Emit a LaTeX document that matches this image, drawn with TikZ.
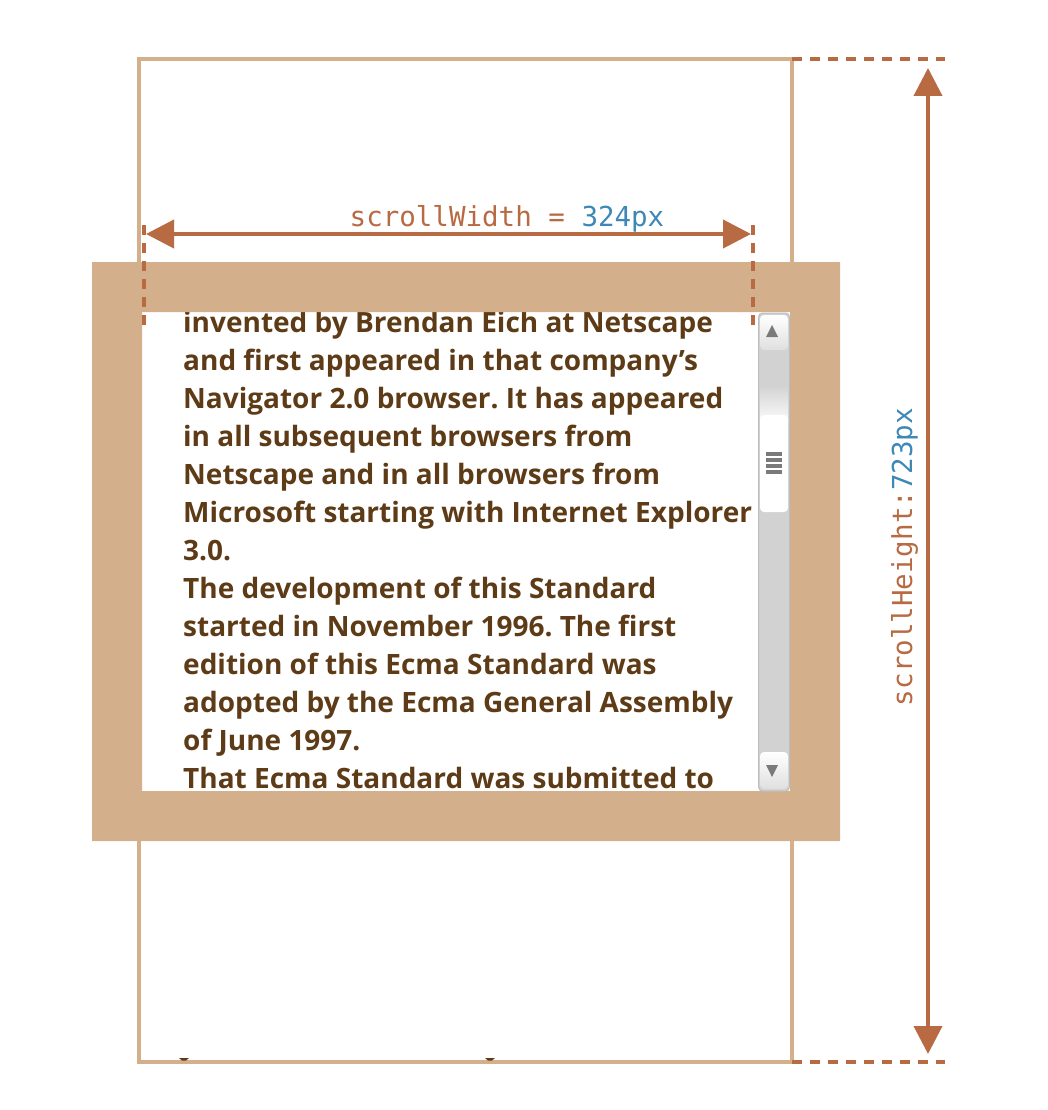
\documentclass[tikz,border=0pt]{standalone}
\usepackage{fontspec}
\setmainfont{Open Sans}
\setmonofont{DejaVu Sans Mono}
\usetikzlibrary{arrows.meta, positioning, calc}
\definecolor{cTan}{HTML}{D4AF8B}
\definecolor{cRust}{HTML}{B86A42}
\definecolor{cBlue}{HTML}{3E88B6}
\definecolor{cText}{HTML}{5E3B17}
\definecolor{cTrack}{HTML}{D2D2D2}
\definecolor{cEdge}{HTML}{BDBDBD}
\definecolor{cGlyph}{HTML}{7A7A7A}
\frenchspacing

\begin{document}
\begin{tikzpicture}[x=1pt, y=-1pt,
    dim/.style={{Triangle[length=28pt,width=28pt]}-{Triangle[length=28pt,width=28pt]},
                line width=4pt, draw=cRust},
    guide/.style={draw=cRust, line width=3.5pt, dash pattern=on 10pt off 8pt},
    lbl/.style={font=\fontsize{27.5}{30}\selectfont\ttfamily, text=cRust, inner sep=0pt},
    para/.style={font=\fontsize{28}{38}\selectfont\bfseries, text=cText,
                 anchor=base west, inner sep=0pt},
    btn/.style={rounded corners=4pt, top color=white, bottom color=cTrack!70},
  ]
  \useasboundingbox (0,0) rectangle (1048,1110);

  % ── SCROLL AREA ──
  \draw[cTan, line width=3.5pt] (139,59) rectangle (792,1062);

  % ── CONTENT ──
  \begin{scope}
    \clip (142,312) rectangle (758,791);
    \foreach \i/\t in {0/invented by Brendan Eich at Netscape,
                       1/and first appeared in that company’s,
                       2/Navigator 2.0 browser. It has appeared,
                       3/in all subsequent browsers from,
                       4/Netscape and in all browsers from,
                       5/Microsoft starting with Internet Explorer,
                       6/3.0.,
                       7/The development of this Standard,
                       8/started in November 1996. The first,
                       9/edition of this Ecma Standard was,
                       10/adopted by the Ecma General Assembly,
                       11/of June 1997.,
                       12/That Ecma Standard was submitted to}
      \node[para] (ln\i) at (183,{332+38*\i}) {\t};
  \end{scope}
  \fill[cText] (179,1058) -- (189,1058) -- (186,1060.5) -- (182,1060.5) -- cycle;
  \fill[cText] (485,1058) -- (495,1058) -- (492,1060.5) -- (488,1060.5) -- cycle;

  % ── BORDER ──
  \fill[cTan, even odd rule] (92,262) rectangle (840,841) (142,312) rectangle (790,791);

  % ── SCROLLBAR ──
  \draw[cEdge, fill=cTrack, rounded corners=4pt, line width=1pt] (758.5,313) rectangle (789.5,791);
  \shade[btn] (760,315) rectangle (788,350);
  \fill[cGlyph] (772,325) -- (778,337) -- (766,337) -- cycle;
  \shade[rounded corners=4pt, top color=cTrack, bottom color=white] (760,385) rectangle (788,425);
  \fill[white, rounded corners=4pt] (760,415) rectangle (788,512);
  \foreach \y in {452,458,464,470}
    \fill[cGlyph] (766,\y) rectangle (782,\y+3.5);
  \shade[btn] (760,752) rectangle (788,789);
  \fill[cGlyph] (766,765) -- (778,765) -- (772,777) -- cycle;

  % ── scrollWidth ──
  \coordinate (wL) at (146,234);
  \coordinate (wR) at (751,234);
  \draw[guide] (144,225) -- (144,325);
  \draw[guide] (753,225) -- (753,325);
  \draw[dim] (wL) -- (wR);
  \node[lbl, anchor=base] (wlbl) at (507,226) {scrollWidth = \textcolor{cBlue}{324px}};

  % ── scrollHeight ──
  \coordinate (hT) at (928,68);
  \coordinate (hB) at (928,1054);
  \draw[guide] (792,59) -- (945,59);
  \draw[guide] (792,1062) -- (945,1062);
  \draw[dim] (hT) -- (hB);
  \node[lbl, rotate=90, anchor=base] (hlbl) at (912,557) {scrollHeight:\textcolor{cBlue}{723px}};
\end{tikzpicture}
\end{document}
